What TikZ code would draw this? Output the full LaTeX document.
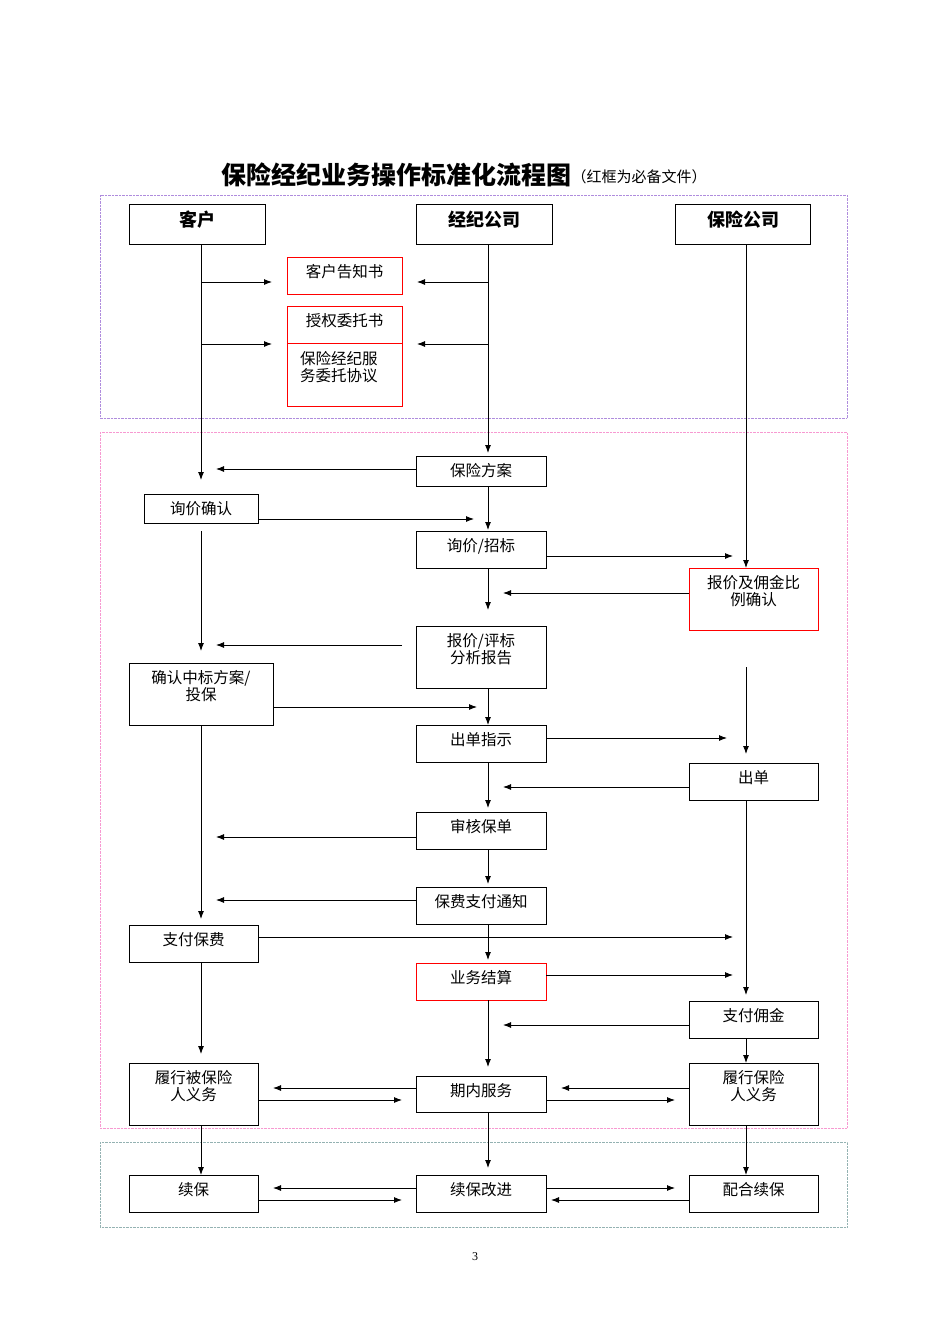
\documentclass[tikz,border=0pt]{standalone}
\usepackage{fontspec}
\setmainfont{Liberation Serif}
\newfontfamily\cjk{Noto Sans CJK SC}
\usetikzlibrary{arrows.meta}
\begin{document}
\begin{tikzpicture}[x=1pt,y=-1pt,
  arr/.style={-{Latex[length=8pt,width=6pt]},line width=0.9pt},
  ln/.style={line width=0.9pt},
  txt/.style={font=\cjk\fontsize{15.5}{17}\selectfont,align=center,inner sep=0pt},
  hd/.style={font=\cjk\bfseries\fontsize{18}{20}\selectfont,inner sep=0pt}]
\useasboundingbox (0,0) rectangle (950,1344);
\fill[white] (0,0) rectangle (950,1344);
\newcommand{\bx}[7]{%
  \draw[line width=0.9pt,draw=#6] (#2,#3) rectangle (#4,#5);
  \coordinate (#1) at ({(#2+#4)/2},{(#3+#5)/2});
  \node[txt,anchor=north] (#1t) at ({(#2+#4)/2},{#3+7}) {#7};}
% title
\node[font=\cjk\bfseries\fontsize{25}{27}\selectfont,anchor=west,inner sep=0pt] (title) at (221,175) {保险经纪业务操作标准化流程图};
\node[font=\cjk\fontsize{15}{16}\selectfont,anchor=west,inner sep=0pt] (sub) at ([yshift=-2pt]title.east) {（红框为必备文件）};
% dashed regions
\draw[densely dotted,draw=blue!40!violet!45] (100,195) rectangle (847,418);
\draw[densely dotted,draw=magenta!40] (100,432) rectangle (847,1128);
\draw[densely dotted,draw=teal!40!gray!60] (100,1142) rectangle (847,1227);
% headers
\draw[ln] (129,204) rectangle (265,244); \node[hd] (h1) at (197,220) {客户};
\draw[ln] (416,204) rectangle (552,244); \node[hd] (h2) at (484,220) {经纪公司};
\draw[ln] (675,204) rectangle (810,244); \node[hd] (h3) at (743,220) {保险公司};
% boxes
\bx{r1}{287}{257}{402}{294}{red}{客户告知书}
\bx{r2}{287}{306}{402}{343}{red}{授权委托书}
\draw[line width=0.9pt,draw=red] (287,343) rectangle (402,406);
\node[txt,align=left,anchor=north west] (r3t) at (300,351) {保险经纪服\\务委托协议};
\bx{b1}{416}{456}{546}{486}{black}{保险方案}
\bx{c1}{144}{494}{258}{523}{black}{询价确认}
\bx{b2}{416}{531}{546}{568}{black}{询价/招标}
\bx{i1}{689}{568}{818}{630}{red}{报价及佣金比\\例确认}
\bx{b3}{416}{626}{546}{688}{black}{报价/评标\\分析报告}
\bx{c2}{129}{663}{273}{725}{black}{确认中标方案/\\投保}
\bx{b4}{416}{725}{546}{762}{black}{出单指示}
\bx{i2}{689}{763}{818}{800}{black}{出单}
\bx{b5}{416}{812}{546}{849}{black}{审核保单}
\bx{b6}{416}{887}{546}{924}{black}{保费支付通知}
\bx{c3}{129}{925}{258}{962}{black}{支付保费}
\bx{b7}{416}{963}{546}{1000}{red}{业务结算}
\bx{i3}{689}{1001}{818}{1038}{black}{支付佣金}
\bx{c4}{129}{1063}{258}{1125}{black}{履行被保险\\人义务}
\bx{b8}{416}{1076}{546}{1112}{black}{期内服务}
\bx{i4}{689}{1063}{818}{1125}{black}{履行保险\\人义务}
\bx{c5}{129}{1175}{258}{1212}{black}{续保}
\bx{b9}{416}{1175}{546}{1212}{black}{续保改进}
\bx{i5}{689}{1175}{818}{1212}{black}{配合续保}
% verticals
\draw[arr] (201,244) -- (201,480);
\draw[arr] (488,244) -- (488,453);
\draw[arr] (746,244) -- (746,568);
\draw[arr] (488,486) -- (488,530);
\draw[arr] (488,568) -- (488,610);
\draw[arr] (201,531) -- (201,651);
\draw[arr] (488,688) -- (488,725);
\draw[arr] (746,667) -- (746,754);
\draw[arr] (488,762) -- (488,808);
\draw[arr] (488,849) -- (488,884);
\draw[arr] (201,725) -- (201,919);
\draw[arr] (488,924) -- (488,960);
\draw[arr] (746,800) -- (746,995);
\draw[arr] (746,1038) -- (746,1063);
\draw[arr] (201,962) -- (201,1054);
\draw[arr] (488,1000) -- (488,1067);
\draw[arr] (201,1125) -- (201,1175);
\draw[arr] (488,1112) -- (488,1168);
\draw[arr] (746,1125) -- (746,1175);
% horizontals
\draw[arr] (201,282) -- (272,282);
\draw[arr] (488,282) -- (417,282);
\draw[arr] (201,344) -- (272,344);
\draw[arr] (488,344) -- (417,344);
\draw[arr] (416,469) -- (216,469);
\draw[arr] (258,519) -- (474,519);
\draw[arr] (546,556) -- (733,556);
\draw[arr] (689,593) -- (503,593);
\draw[arr] (402,645) -- (216,645);
\draw[arr] (273,707) -- (477,707);
\draw[arr] (546,738) -- (727,738);
\draw[arr] (689,787) -- (503,787);
\draw[arr] (416,837) -- (216,837);
\draw[arr] (416,900) -- (216,900);
\draw[arr] (258,937) -- (733,937);
\draw[arr] (546,975) -- (733,975);
\draw[arr] (689,1025) -- (503,1025);
\draw[arr] (416,1088) -- (273,1088);
\draw[arr] (258,1100) -- (402,1100);
\draw[arr] (689,1088) -- (561,1088);
\draw[arr] (546,1100) -- (675,1100);
\draw[arr] (416,1188) -- (273,1188);
\draw[arr] (258,1200) -- (402,1200);
\draw[arr] (546,1188) -- (675,1188);
\draw[arr] (689,1200) -- (551,1200);
\node[font=\fontsize{12}{13}\selectfont] (pg) at (475,1257) {3};
\end{tikzpicture}
\end{document}
